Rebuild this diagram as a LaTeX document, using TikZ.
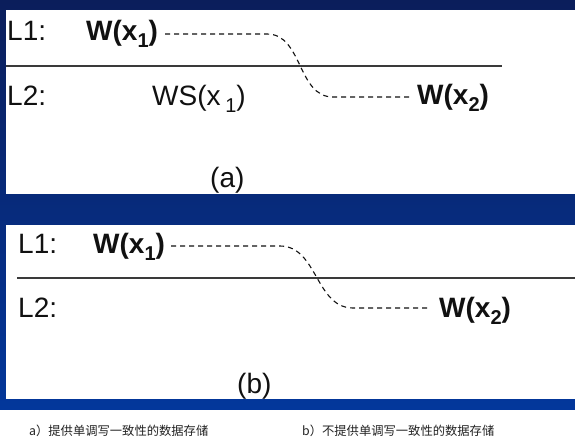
\documentclass[tikz,border=0pt]{standalone}
\usepackage{fontspec}
\newfontfamily\mwfont{Liberation Sans}
\newfontfamily\cjk{Noto Sans CJK SC}
\usetikzlibrary{calc}
\definecolor{mwnavy}{HTML}{0B1E5B}
\definecolor{mwblue}{HTML}{03379B}
\definecolor{mwink}{HTML}{111111}
\definecolor{mwrule}{HTML}{3A3A3A}
\definecolor{mwcaption}{HTML}{222222}
\newcommand\mwsub[1]{\raisebox{-7pt}{\fontsize{20pt}{20pt}\selectfont #1}}
\tikzset{
  mwpanel/.style={fill=white, draw=none},
  mwtext/.style={
    anchor=base west, inner sep=0pt, text=mwink,
    font=\mwfont\fontsize{28pt}{28pt}\selectfont},
  mwop/.style={
    mwtext, font=\mwfont\bfseries\fontsize{28pt}{28pt}\selectfont},
  mwrule/.style={draw=mwrule, line width=1.4pt},
  mwdash/.style={draw=mwink, line width=1.1pt, dash pattern=on 5pt off 4pt},
  mwcap/.style={
    anchor=base west, inner sep=0pt, text=mwcaption,
    font=\cjk\fontsize{12.3pt}{12.3pt}\selectfont},
}

\begin{document}
\begin{tikzpicture}[x=1pt, y=-1pt]
\useasboundingbox (0,0) rectangle (575,440);
\fill[white] (0,0) rectangle (575,440);

% Slide background.
\shade[top color=mwnavy, bottom color=mwblue] (0,0) rectangle (575,409);

% Panel (a): the store keeps monotonic writes.
\fill[mwpanel] (6,10) rectangle (575,194);
\node[mwtext] (l1a) at (7,40) {L1:};
\node[mwop] (w1a) at (86,40) {W(x\mwsub{1})};
\node[mwtext] (l2a) at (7,105) {L2:};
\node[mwtext] (wsa) at (152,105) {WS(x\,\mwsub{1})};
\node[mwop] (w2a) at (417,104) {W(x\mwsub{2})};
\node[mwtext] (capa) at (210,187) {(a)};
\draw[mwrule] (6,66) -- (502,66);
\draw[mwdash] ($(w1a.base east)+(7,-6)$) -- (267,34)
  to[out=0, in=180] (333,97) -- ($(w2a.base west)+(-4,-7)$);

% Panel (b): no monotonic writes.
\fill[mwpanel] (6,225) rectangle (575,399);
\node[mwtext] (l1b) at (18,253) {L1:};
\node[mwop] (w1b) at (93,253) {W(x\mwsub{1})};
\node[mwtext] (l2b) at (18,317) {L2:};
\node[mwop] (w2b) at (439,317) {W(x\mwsub{2})};
\node[mwtext] (capb) at (237,393) {(b)};
\draw[mwrule] (17,278) -- (575,278);
\draw[mwdash] ($(w1b.base east)+(6,-7)$) -- (280,246)
  to[out=0, in=180] (353,308) -- ($(w2b.base west)+(-8,-9)$);

% Captions under the slide.
\node[mwcap] (capta) at (29,435) {a）提供单调写一致性的数据存储};
\node[mwcap] (captb) at (302,435) {b）不提供单调写一致性的数据存储};

\end{tikzpicture}
\end{document}
